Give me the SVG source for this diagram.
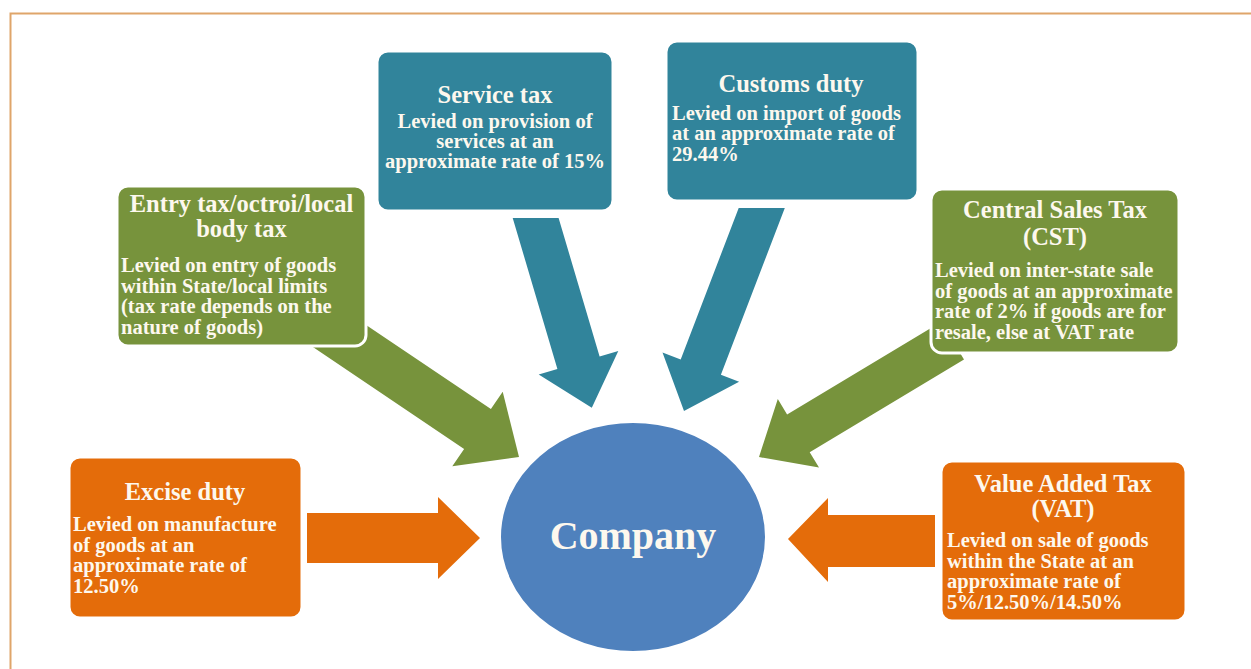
<svg xmlns="http://www.w3.org/2000/svg" width="1251" height="669" viewBox="0 0 1251 669">
<style>
.t{font-family:"Liberation Serif","Times New Roman",serif;font-weight:bold;fill:#fdf8ee}
.h{font-size:24.5px;text-anchor:middle}
.b{font-size:20.5px}
.c{text-anchor:middle}
.box{stroke:#ffffff;stroke-width:3}
.or{fill:#e46c0a}
.gr{fill:#77933c}
.tl{fill:#31849b}
</style>
<rect width="1251" height="669" fill="#ffffff"/>
<path d="M10.5,669 V13.5 H1251" fill="none" stroke="#dfa56a" stroke-width="2"/>
<g id="connectors">
<polygon class="or" points="307,513 438,513 438,497 480,538 438,579 438,563 307,563"/>
<polygon class="or" points="935,515 828,515 828,498 788,539 828,582 828,567 935,567"/>
<polygon class="gr" points="333.4,302.9 490.9,409.1 502.7,391.7 519,457 452.3,466.3 464.1,448.9 306.6,342.7"/>
<polygon class="gr" points="941.4,321.7 787.1,414.4 777.8,399 759,457 819,467.6 809.7,452.2 964,359.5"/>
<polygon class="tl" points="512.7,218 558.6,218 599.6,356.5 618.3,350.9 591.8,407.8 538.7,374.5 557.4,368.9"/>
<polygon class="tl" points="738.7,208 784.8,208 720.9,374.8 739.1,381.8 684,411 662.5,352.4 680.7,359.4"/>
</g>
<g id="company">
<ellipse cx="633" cy="537" rx="133" ry="115" fill="#4f81bd" stroke="#ffffff" stroke-width="2"/>
<text class="t" x="633" y="549" font-size="40" text-anchor="middle">Company</text>
</g>
<g id="excise">
<rect class="box or" x="69" y="457" width="233" height="161" rx="11"/>
<text class="t h" x="185" y="500">Excise duty</text>
<text class="t b" x="73" y="531">Levied on manufacture</text>
<text class="t b" x="73" y="551.5">of goods at an</text>
<text class="t b" x="73" y="572">approximate rate of</text>
<text class="t b" x="73" y="592.5">12.50%</text>
</g>
<g id="entry">
<rect class="box gr" x="117" y="186" width="249" height="160" rx="11"/>
<text class="t h" x="241.5" y="212">Entry tax/octroi/local</text>
<text class="t h" x="241.5" y="237">body tax</text>
<text class="t b" x="121" y="272">Levied on entry of goods</text>
<text class="t b" x="121" y="292.5">within State/local limits</text>
<text class="t b" x="121" y="313">(tax rate depends on the</text>
<text class="t b" x="121" y="333.5">nature of goods)</text>
</g>
<g id="service">
<rect class="box tl" x="377" y="51" width="236" height="160" rx="11"/>
<text class="t h" x="495" y="103">Service tax</text>
<text class="t b c" x="495" y="128">Levied on provision of</text>
<text class="t b c" x="495" y="148">services at an</text>
<text class="t b c" x="495" y="168">approximate rate of 15%</text>
</g>
<g id="customs">
<rect class="box tl" x="666" y="41" width="252" height="160" rx="11"/>
<text class="t h" x="791" y="92">Customs duty</text>
<text class="t b" x="672" y="120">Levied on import of goods</text>
<text class="t b" x="672" y="140">at an approximate rate of</text>
<text class="t b" x="672" y="161">29.44%</text>
</g>
<g id="cst">
<rect class="box gr" x="931" y="189" width="248" height="164" rx="11"/>
<text class="t h" x="1055" y="218">Central Sales Tax</text>
<text class="t h" x="1055" y="245">(CST)</text>
<text class="t b" x="935" y="277">Levied on inter-state sale</text>
<text class="t b" x="935" y="297.5">of goods at an approximate</text>
<text class="t b" x="935" y="318">rate of 2% if goods are for</text>
<text class="t b" x="935" y="338.5">resale, else at VAT rate</text>
</g>
<g id="vat">
<rect class="box or" x="941" y="461" width="245" height="160" rx="11"/>
<text class="t h" x="1063" y="492">Value Added Tax</text>
<text class="t h" x="1063" y="517">(VAT)</text>
<text class="t b" x="947" y="547">Levied on sale of goods</text>
<text class="t b" x="947" y="567.5">within the State at an</text>
<text class="t b" x="947" y="588">approximate rate of</text>
<text class="t b" x="947" y="608.5">5%/12.50%/14.50%</text>
</g>
</svg>
